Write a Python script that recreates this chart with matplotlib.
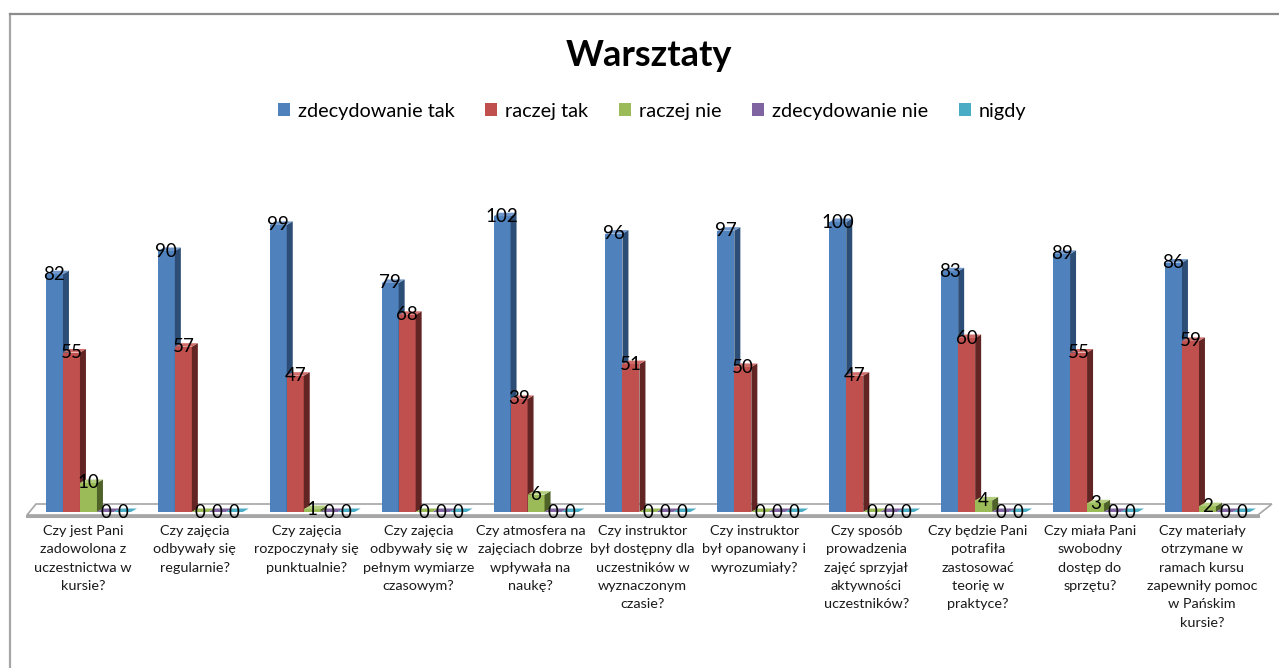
import matplotlib
matplotlib.use("Agg")
import matplotlib.pyplot as plt
from matplotlib.patches import Polygon, Rectangle
from matplotlib.lines import Line2D
import numpy as np

plt.rcParams['font.family'] = ['Lato', 'DejaVu Sans']

title = "Warsztaty"
series_names = ["zdecydowanie tak", "raczej tak", "raczej nie", "zdecydowanie nie", "nigdy"]
categories = [
    "Czy jest Pani\nzadowolona z\nuczestnictwa w\nkursie?",
    "Czy zajęcia\nodbywały się\nregularnie?",
    "Czy zajęcia\nrozpoczynały się\npunktualnie?",
    "Czy zajęcia\nodbywały się w\npełnym wymiarze\nczasowym?",
    "Czy atmosfera na\nzajęciach dobrze\nwpływała na\nnaukę?",
    "Czy instruktor\nbył dostępny dla\nuczestników w\nwyznaczonym\nczasie?",
    "Czy instruktor\nbył opanowany i\nwyrozumiały?",
    "Czy sposób\nprowadzenia\nzajęć sprzyjał\naktywności\nuczestników?",
    "Czy będzie Pani\npotrafiła\nzastosować\nteorię w\npraktyce?",
    "Czy miała Pani\nswobodny\ndostęp do\nsprzętu?",
    "Czy materiały\notrzymane w\nramach kursu\nzapewniły pomoc\nw Pańskim\nkursie?",
]
zdecydowanie_tak = [82, 90, 99, 79, 102, 96, 97, 100, 83, 89, 86]
raczej_tak = [55, 57, 47, 68, 39, 51, 50, 47, 60, 55, 59]
raczej_nie = [10, 0, 1, 0, 6, 0, 0, 0, 4, 3, 2]
zdecydowanie_nie = [0] * 11
nigdy = [0] * 11
series = [zdecydowanie_tak, raczej_tak, raczej_nie, zdecydowanie_nie, nigdy]

front_colors = ["#4F81BD", "#C0504D", "#9BBB59", "#8064A2", "#4BACC6"]
side_colors = ["#2C4D75", "#632523", "#4F6228", "#3F3151", "#215968"]
top_colors = ["#6F97CC", "#D06E6B", "#B3CE7E", "#9A80BB", "#6CC0D8"]

W, H = 1279, 668
fig = plt.figure(figsize=(W / 100, H / 100), dpi=100)

# pixel geometry of the plot area
px_unit_x = 111.9
px_unit_y = 2.9
base_px = 512
x_left_px = 27
ax_top_px, ax_bot_px = 190, 522
ax = fig.add_axes([x_left_px / W, 1 - ax_bot_px / H, 11 * px_unit_x / W, (ax_bot_px - ax_top_px) / H])
ax.set_xlim(-0.5, 10.5)
ax.set_ylim(-(ax_bot_px - base_px) / px_unit_y, (base_px - ax_top_px) / px_unit_y)
ax.axis('off')

# floor
dx_floor_l = 9 / px_unit_x
dx_floor_r = 14 / px_unit_x
y_front = -3 / px_unit_y
y_back = 8 / px_unit_y
floor = Polygon([(-0.5, y_front), (10.5, y_front), (10.5 + dx_floor_r, y_back), (-0.5 + dx_floor_l, y_back)],
                closed=True, facecolor="white", edgecolor="#A6A6A6", lw=1.2, clip_on=False, zorder=1)
ax.add_patch(floor)
ax.plot([-0.5, 10.5], [y_front - 0.3, y_front - 0.3], color="#A6A6A6", lw=2.2, clip_on=False, zorder=1)

bw = 17 / px_unit_x
start = -37 / px_unit_x
ddx = 6 / px_unit_x
ddy = 3.5 / px_unit_y
x = np.arange(len(categories))

for s, vals in enumerate(series):
    xs = x + start + s * bw
    ax.bar(xs, vals, width=bw, align='edge', color=front_colors[s], edgecolor='none',
           zorder=3 + s, clip_on=False)
    for xi, v in zip(xs, vals):
        side = Polygon([(xi + bw, 0), (xi + bw + ddx, ddy), (xi + bw + ddx, v + ddy), (xi + bw, v)],
                       closed=True, facecolor=side_colors[s], edgecolor='none', zorder=3 + s, clip_on=False)
        top = Polygon([(xi, v), (xi + ddx, v + ddy), (xi + bw + ddx, v + ddy), (xi + bw, v)],
                      closed=True, facecolor=top_colors[s] if v > 0 else front_colors[s],
                      edgecolor='none', zorder=3 + s, clip_on=False)
        ax.add_patch(side)
        ax.add_patch(top)
        ax.text(xi + bw / 2, v, str(v), ha='center', va='center', fontsize=13.5,
                color='black', zorder=20, clip_on=False)

for xi, lab in zip(x, categories):
    ax.text(xi, ax.get_ylim()[0] - 1.0, lab, ha='center', va='top', fontsize=10.4,
            color='#1a1a1a', linespacing=1.64, clip_on=False)

fig.text(649 / W, 1 - 56 / H, title, ha='center', va='center', fontsize=26, fontweight='bold')

handles = [Rectangle((0, 0), 1, 1, facecolor=c, edgecolor='none') for c in front_colors]
fig.legend(handles, series_names, loc='center', bbox_to_anchor=(652 / W, 1 - 111 / H), ncol=5,
           frameon=False, fontsize=14.3, handlelength=0.6, handleheight=0.6, handletextpad=0.4,
           columnspacing=1.55)

# chart frame
fig.add_artist(Line2D([10 / W, 10 / W], [0, 1 - 14 / H], color="#A6A6A6", lw=1.6))
fig.add_artist(Line2D([10 / W, 1278 / W], [1 - 14 / H, 1 - 14 / H], color="#8C8C8C", lw=1.6))

fig.savefig("out.png", dpi=100)
